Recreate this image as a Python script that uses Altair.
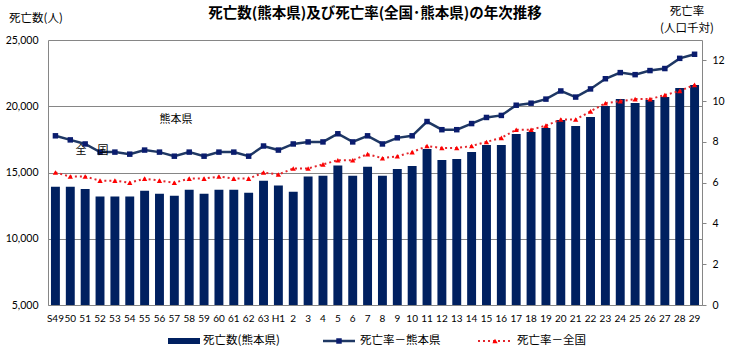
import altair as alt
import pandas as pd

categories = ["S49", "50", "51", "52", "53", "54", "55", "56", "57", "58", "59", "60", "61", "62", "63",
              "H1", "2", "3", "4", "5", "6", "7", "8", "9", "10", "11", "12", "13", "14", "15", "16",
              "17", "18", "19", "20", "21", "22", "23", "24", "25", "26", "27", "28", "29"]

deaths_kumamoto = [13930, 13930, 13760, 13180, 13180, 13180, 13630, 13400, 13250, 13700, 13400, 13700,
                   13700, 13480, 14380, 14010, 13550, 14690, 14760, 15520, 14760, 15440, 14760, 15260,
                   15490, 16770, 15940, 16020, 16550, 17080, 17080, 17910, 18060, 18360, 18960, 18510,
                   19190, 20020, 20550, 20250, 20470, 20700, 21380, 21600]

rate_kumamoto = [8.3, 8.1, 7.9, 7.5, 7.5, 7.4, 7.6, 7.5, 7.3, 7.5, 7.3, 7.5, 7.5, 7.3, 7.8,
                 7.6, 7.9, 8.0, 8.0, 8.4, 8.0, 8.3, 7.9, 8.2, 8.3, 9.0, 8.6, 8.6, 8.9, 9.2, 9.3,
                 9.8, 9.9, 10.1, 10.5, 10.2, 10.6, 11.1, 11.4, 11.3, 11.5, 11.6, 12.1, 12.3]

rate_national = [6.5, 6.3, 6.3, 6.1, 6.1, 6.0, 6.2, 6.1, 6.0, 6.2, 6.2, 6.3, 6.2, 6.2, 6.5,
                 6.4, 6.7, 6.7, 6.9, 7.1, 7.1, 7.4, 7.2, 7.3, 7.5, 7.8, 7.7, 7.7, 7.8, 8.0, 8.2,
                 8.6, 8.6, 8.8, 9.1, 9.1, 9.5, 9.9, 10.0, 10.1, 10.1, 10.3, 10.5, 10.8]

title_text = "死亡数(熊本県)及び死亡率(全国･熊本県)の年次推移"
left_title = "死亡数(人)"
right_title = ["死亡率", "(人口千対)"]
legend_labels = ["死亡数(熊本県)", "死亡率－熊本県", "死亡率－全国"]
annot_kumamoto = "熊本県"
annot_national = "全　国"

left_ticks = [5000, 10000, 15000, 20000, 25000]
right_ticks = [0, 2, 4, 6, 8, 10, 12]

JP = "Noto Sans CJK JP"
NUM = "Lato"
NAVY = "#002060"
LINE_BLUE = "#1f3864"
GRID = "#868686"

df = pd.DataFrame({
    "cat": categories,
    "deaths": deaths_kumamoto,
    "kuma": rate_kumamoto,
    "zen": rate_national,
})

x_enc = alt.X("cat:N", sort=categories,
              scale=alt.Scale(domain=categories, paddingInner=0.4, paddingOuter=0.2),
              axis=alt.Axis(title=None, labelAngle=0, labelFont=NUM, labelFontSize=10,
                            labelColor="#000000", domainColor=GRID, ticks=False,
                            labelPadding=8, labelOverlap=False))

rate_scale = alt.Scale(domain=[0, 13], nice=False, zero=True)

base = alt.Chart(df)

bars = base.mark_bar(color=NAVY).encode(
    x=x_enc,
    y=alt.Y("deaths:Q", scale=alt.Scale(domain=[5000, 25000], nice=False, zero=False),
            axis=alt.Axis(orient="left", values=left_ticks, format=",.0f", title=None, grid=True,
                          gridColor=GRID, domainColor=GRID, ticks=False, labelPadding=10,
                          labelFont=NUM, labelFontSize=10.5, labelColor="#000000")),
    y2=alt.datum(5000),
)

kline = base.mark_line(color=LINE_BLUE, strokeWidth=2.5).encode(
    x=x_enc,
    y=alt.Y("kuma:Q", scale=rate_scale,
            axis=alt.Axis(orient="right", values=right_ticks, title=None, grid=False,
                          domainColor=GRID, tickColor=GRID, tickSize=4, labelPadding=6,
                          labelFont=NUM, labelFontSize=10.5, labelColor="#000000")),
)

kpts = base.mark_point(shape="square", filled=True, size=30, color="#0a1c6e", opacity=1).encode(
    x=x_enc,
    y=alt.Y("kuma:Q", scale=rate_scale, axis=None),
)

zline = base.mark_line(color="#e3262c", strokeWidth=2, strokeDash=[2, 3]).encode(
    x=x_enc,
    y=alt.Y("zen:Q", scale=rate_scale, axis=None),
)

zpts = base.mark_point(shape="triangle-up", filled=True, size=28, color="#ff0000", opacity=1).encode(
    x=x_enc,
    y=alt.Y("zen:Q", scale=rate_scale, axis=None),
)

one = pd.DataFrame({"k": [0]})


def txt(text, x, y, size=11, weight="normal", align="center"):
    return alt.Chart(one).mark_text(text=text, font=JP, fontSize=size, fontWeight=weight,
                                    align=align, baseline="middle", color="#000000").encode(
        x=alt.value(x), y=alt.value(y))


title_layer = txt(title_text, 327, -26, size=14.5, weight="bold")
left_title_layer = txt(left_title, -12, -21, size=11.5)
right_title_1 = txt(right_title[0], 639, -28, size=11.5)
right_title_2 = txt(right_title[1], 639, -11, size=11.5)
ann1 = txt(annot_kumamoto, 128, 80, size=11)
ann2 = txt(annot_national, 44, 111, size=11)

# legend
leg_y = 301
leg_rect = alt.Chart(one).mark_rect(color=NAVY).encode(
    x=alt.value(120), x2=alt.value(152), y=alt.value(leg_y - 3), y2=alt.value(leg_y + 3))
leg_t1 = txt(legend_labels[0], 155, leg_y, size=11.5, align="left")
leg_rule2 = alt.Chart(one).mark_rule(color=LINE_BLUE, strokeWidth=2.5).encode(
    x=alt.value(275), x2=alt.value(307), y=alt.value(leg_y))
leg_pt2 = alt.Chart(one).mark_point(shape="square", filled=True, size=30, color="#0a1c6e",
                                    opacity=1).encode(x=alt.value(291), y=alt.value(leg_y))
leg_t2 = txt(legend_labels[1], 312, leg_y, size=11.5, align="left")
leg_rule3 = alt.Chart(one).mark_rule(color="#e3262c", strokeWidth=2, strokeDash=[2, 3]).encode(
    x=alt.value(430), x2=alt.value(464), y=alt.value(leg_y))
leg_pt3 = alt.Chart(one).mark_point(shape="triangle-up", filled=True, size=28, color="#ff0000",
                                    opacity=1).encode(x=alt.value(447), y=alt.value(leg_y))
leg_t3 = txt(legend_labels[2], 469, leg_y, size=11.5, align="left")

chart = alt.layer(
    bars, kline, kpts, zline, zpts,
    title_layer, left_title_layer, right_title_1, right_title_2, ann1, ann2,
    leg_rect, leg_t1, leg_rule2, leg_pt2, leg_t2, leg_rule3, leg_pt3, leg_t3,
).resolve_scale(y="independent").properties(
    width=654, height=265,
    autosize=alt.AutoSizeParams(type="none"),
    padding={"left": 48, "top": 40, "right": 27, "bottom": 46},
    background="#ffffff",
).configure_view(stroke=None)

chart.save("out.html", embed_options={"renderer": "svg", "actions": False})
